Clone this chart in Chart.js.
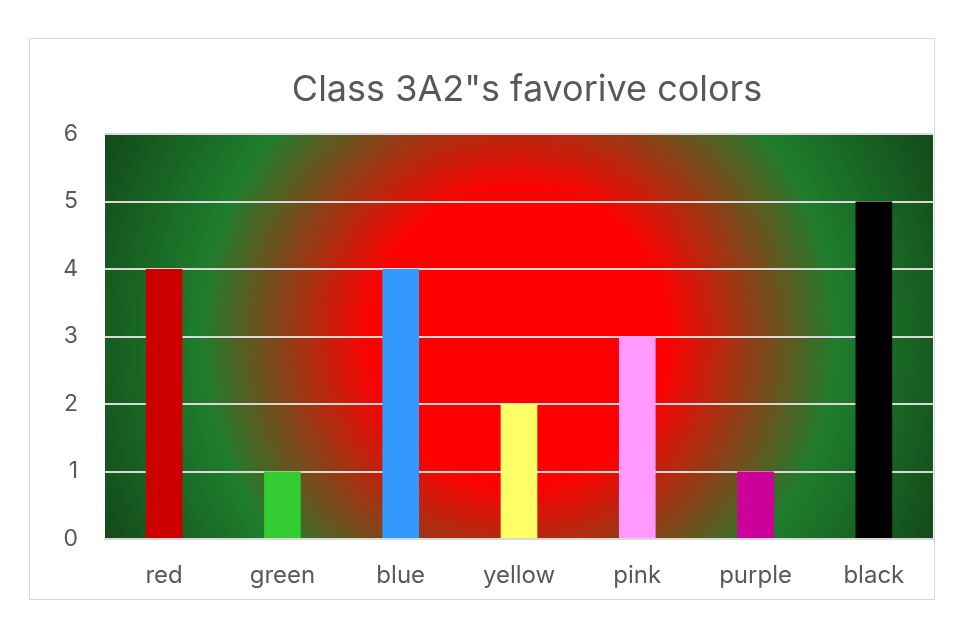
<!DOCTYPE html>
<html>
<head>
<meta charset="utf-8">
<script src="https://cdn.jsdelivr.net/npm/chart.js@4.4.1/dist/chart.umd.min.js"></script>
<style>
  html, body { margin: 0; padding: 0; background: #fff; }
  #frame {
    position: absolute; left: 29px; top: 38px;
    width: 904px; height: 560px;
    border: 1.5px solid #d9d9d9;
  }
  #wrap { position: absolute; left: 0; top: 0; width: 967px; height: 641px; }
</style>
</head>
<body>
<div id="frame"></div>
<div id="wrap"><canvas id="barchart"></canvas></div>
<script>
// data
const categories = ['red', 'green', 'blue', 'yellow', 'pink', 'purple', 'black'];
const votes = [4, 1, 4, 2, 3, 1, 5];
const barColors = ['#cc0000', '#33cc33', '#3399ff', '#ffff66', '#ff99ff', '#cc0099', '#000000'];
const chartTitle = 'Class 3A2"s favorive colors';

// radial red -> green -> dark green fill behind the plot area
const plotBackground = {
  id: 'plotBackground',
  beforeDraw(chart) {
    const a = chart.chartArea;
    const c = chart.ctx;
    const cx = (a.left + a.right) / 2, cy = (a.top + a.bottom) / 2;
    const r = Math.hypot(a.right - cx, a.bottom - cy);
    const g = c.createRadialGradient(cx, cy, 0, cx, cy, r);
    g.addColorStop(0, '#ff0000');
    g.addColorStop(0.32, '#ff0000');
    g.addColorStop(0.69, '#1e7d2d');
    g.addColorStop(1, '#134a19');
    c.save();
    c.fillStyle = g;
    c.fillRect(a.left, a.top, a.right - a.left, a.bottom - a.top);
    c.restore();
  }
};

// title centred over the plot area (excel style), not over the canvas
const plotTitle = {
  id: 'plotTitle',
  afterDraw(chart) {
    const a = chart.chartArea;
    const c = chart.ctx;
    c.save();
    c.font = '36px Inter, "Open Sans", sans-serif';
    c.fillStyle = '#595959';
    c.textAlign = 'center';
    c.textBaseline = 'middle';
    c.fillText(chartTitle, (a.left + a.right) / 2 + 8, a.top - 44);
    c.restore();
  }
};

document.addEventListener("DOMContentLoaded", function () {
  const ctx = document.getElementById('barchart');
  if(ctx){
  new Chart(ctx, {
    type: 'bar',
    data: {
      labels: categories,
      datasets: [{
        label: 'votes',
        data: votes,
        backgroundColor: barColors,
        borderWidth: 0,
        barPercentage: 0.31,
        categoryPercentage: 1
      }]
    },
    options: {
      responsive: true,
      maintainAspectRatio: false,
      animation: false,
      layout: { padding: { left: 0, right: 34, top: 134, bottom: 0 } },
      plugins: {
        legend: { display: false },
        tooltip: { enabled: false },
        title: { display: false }
      },
      scales: {
        x: {
          grid: { display: false },
          border: { display: true, color: '#d9d9d9', width: 2 },
          ticks: {
            color: '#595959',
            padding: 14,
            font: { family: 'Inter, "Open Sans", sans-serif', size: 24 }
          },
          afterFit(scale) { scale.height = 102; }
        },
        y: {
          min: 0,
          max: 6,
          grid: { color: '#d9d9d9', lineWidth: 2, drawTicks: false },
          border: { display: false },
          ticks: {
            stepSize: 1,
            color: '#595959',
            padding: 27,
            font: { family: 'Inter, "Open Sans", sans-serif', size: 23 }
          },
          afterFit(scale) { scale.width = 105; }
        }
      }
    },
    plugins: [plotBackground, plotTitle]
  });}
  else{
    console.error('canvas element with ID "barchart" not found');
  }
});
</script>
</body>
</html>
